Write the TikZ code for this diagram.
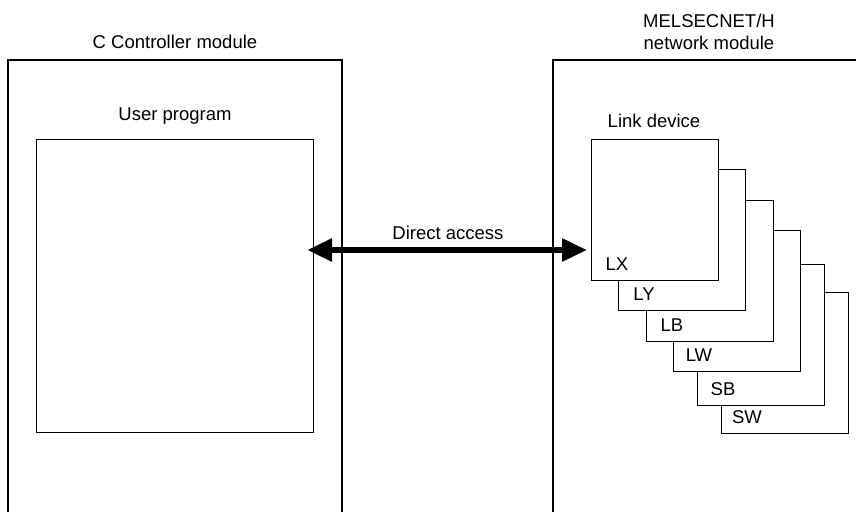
\documentclass[tikz,border=0pt]{standalone}
\usepackage{fontspec}
\setmainfont{Liberation Sans}
\usetikzlibrary{arrows.meta}

\tikzset{
  lbl/.style={font=\fontsize{18.5}{22}\selectfont, inner sep=0pt, align=center},
  devbox/.style={draw, line width=1.1pt, fill=white, inner sep=0pt,
    minimum width=127pt, minimum height=141pt, anchor=north west},
  progbox/.style={draw, line width=1.1pt, inner sep=0pt,
    minimum width=277pt, minimum height=293pt, anchor=north west},
  access/.style={line width=6pt, {Triangle[length=25pt,width=22pt]}-{Triangle[length=25pt,width=22pt]}}
}

\begin{document}
\begin{tikzpicture}[x=1pt, y=-1pt]
\useasboundingbox (0,0) rectangle (856,511);
\clip (0,0) rectangle (856,511);

% ===== C Controller module (left, open at the bottom) =====
\draw[line width=1.2pt] (8,520) -- (8,60) -- (342,60) -- (342,520);
\node[lbl] (ccu) at (175,42) {C Controller module};
\node[lbl] (progtxt) at (175,116) {User program};
\node[progbox] (prog) at (36,139) {};

% ===== Network module (right, open at bottom and right) =====
\draw[line width=1.2pt] (553,520) -- (553,60) -- (870,60);
\node[lbl] (netmod) at (709,32) {MELSECNET/H\\network module};
\node[lbl] (linktxt) at (654,121) {Link device};

% Stacked link devices, back to front
\foreach \nm/\xx/\yy in {SW/721/292, SB/697/264, LW/673/230, LB/646/200, LY/618/169, LX/591/139} {
  \node[devbox] (\nm) at (\xx,\yy) {};
  \node[lbl] (\nm txt) at ([xshift=26pt,yshift=17pt]\nm.south west) {\nm};
}

% ===== Direct access arrow =====
\coordinate (acc) at (0,250);
\draw[access] ([xshift=-7pt]prog.east |- acc) -- ([xshift=-4pt]LX.west |- acc);
\node[lbl] (acctxt) at (448,233) {Direct access};

\end{tikzpicture}
\end{document}
